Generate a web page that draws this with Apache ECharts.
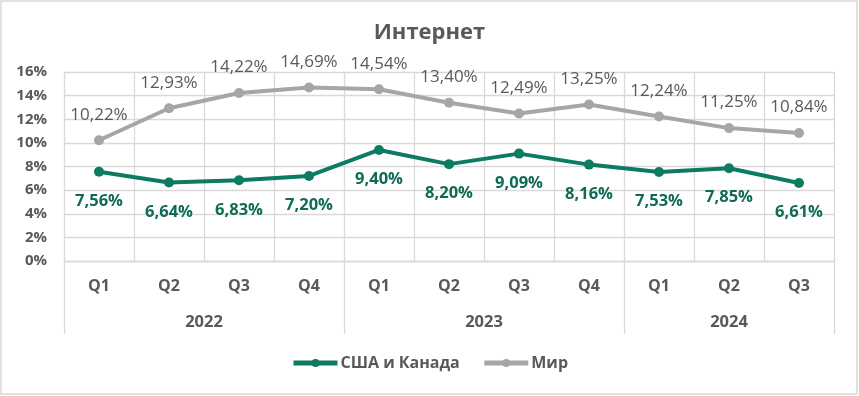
<!DOCTYPE html>
<html>
<head>
<meta charset="utf-8">
<script src="https://cdn.jsdelivr.net/npm/echarts@6/dist/echarts.min.js"></script>
<style>
html,body{margin:0;padding:0;background:#fff;}
#c{width:859px;height:396px;}
</style>
</head>
<body>
<div id="c"></div>
<script>
const title = 'Интернет';
const quarters = ['Q1','Q2','Q3','Q4','Q1','Q2','Q3','Q4','Q1','Q2','Q3'];
const years = ['2022','2023','2024'];
const yearQuarterCounts = [4,4,3];
const seriesNames = ['США и Канада','Мир'];
const usCanada = [7.56,6.64,6.83,7.20,9.40,8.20,9.09,8.16,7.53,7.85,6.61];
const world = [10.22,12.93,14.22,14.69,14.54,13.40,12.49,13.25,12.24,11.25,10.84];
const yTicks = [0,2,4,6,8,10,12,14,16];

// half-step category axis for year group labels and separators
const halfCats = [];
const yearLabelAt = {};
const sepAt = new Set([0]);
let pos = 0;
yearQuarterCounts.forEach((n,i)=>{
  yearLabelAt[pos + n] = years[i];
  pos += 2*n;
  sepAt.add(pos);
});
for (let i=0;i<=pos;i++) halfCats.push(String(i));

const FONT = "'Open Sans', 'DejaVu Sans', sans-serif";
const GREEN = '#0b7b61';
const GREEN_TXT = '#0e6b55';
const GRAY = '#a6a6a6';
const TXT = '#595959';
const fmt = v => v.toFixed(2).replace('.', ',') + '%';

const chart = echarts.init(document.getElementById('c'), null, {renderer:'canvas'});
chart.setOption({
  backgroundColor:'#fff',
  animation:false,
  textStyle:{fontFamily:FONT},
  title:{text:title,left:'center',top:17,textStyle:{fontFamily:FONT,fontSize:22,fontWeight:'bold',color:TXT}},
  legend:{
    data:[
      {name:seriesNames[0],lineStyle:{width:5}},
      {name:seriesNames[1],lineStyle:{width:5}}
    ],
    bottom:20, left:'center', itemWidth:44, itemHeight:10, itemGap:22,
    textStyle:{fontFamily:FONT,fontSize:16,fontWeight:'bold',color:TXT,padding:[0,0,0,-2]}
  },
  grid:{left:64,right:25,top:72,bottom:135,containLabel:false},
  xAxis:[{
    type:'category', data:quarters, boundaryGap:true, position:'bottom',
    axisLine:{lineStyle:{color:'#d9d9d9',width:1.3}},
    axisTick:{show:false},
    splitLine:{show:true,interval:0,lineStyle:{color:'#d9d9d9',width:1.3}},
    axisLabel:{interval:0,margin:17,fontFamily:FONT,fontSize:16,fontWeight:'bold',color:TXT}
  },{
    type:'category', data:halfCats, boundaryGap:false, position:'bottom',
    axisLine:{show:false},
    axisTick:{show:true,length:73,interval:(i)=>sepAt.has(i),lineStyle:{color:'#d9d9d9',width:1.3}},
    axisLabel:{interval:0,margin:53,fontFamily:FONT,fontSize:16.5,fontWeight:'bold',color:TXT,
      formatter:(v,i)=>yearLabelAt[i]||''}
  }],
  yAxis:{
    type:'value', min:yTicks[0], max:yTicks[yTicks.length-1], interval:2,
    axisLine:{show:false}, axisTick:{show:false},
    splitLine:{lineStyle:{color:'#d9d9d9',width:1.3}},
    axisLabel:{margin:17,fontFamily:FONT,fontSize:15,fontWeight:'bold',color:TXT,formatter:v=>v+'%'}
  },
  series:[{
    name:seriesNames[0], type:'line', data:usCanada, xAxisIndex:0,
    symbol:'circle', symbolSize:10,
    lineStyle:{color:GREEN,width:4}, itemStyle:{color:GREEN},
    label:{show:true,position:'bottom',distance:16,formatter:p=>fmt(p.value),
      fontFamily:FONT,fontSize:16.5,fontWeight:'bold',color:GREEN_TXT}
  },{
    name:seriesNames[1], type:'line', data:world, xAxisIndex:0,
    symbol:'circle', symbolSize:10,
    lineStyle:{color:GRAY,width:4}, itemStyle:{color:GRAY},
    label:{show:true,position:'top',distance:12,formatter:p=>fmt(p.value),
      fontFamily:FONT,fontSize:17,fontWeight:'normal',color:TXT}
  }],
  graphic:[{type:'rect',shape:{x:1,y:1,width:856,height:393},style:{fill:null,stroke:'#d9d9d9',lineWidth:1.5},silent:true,z:-1}]
});
</script>
</body>
</html>
